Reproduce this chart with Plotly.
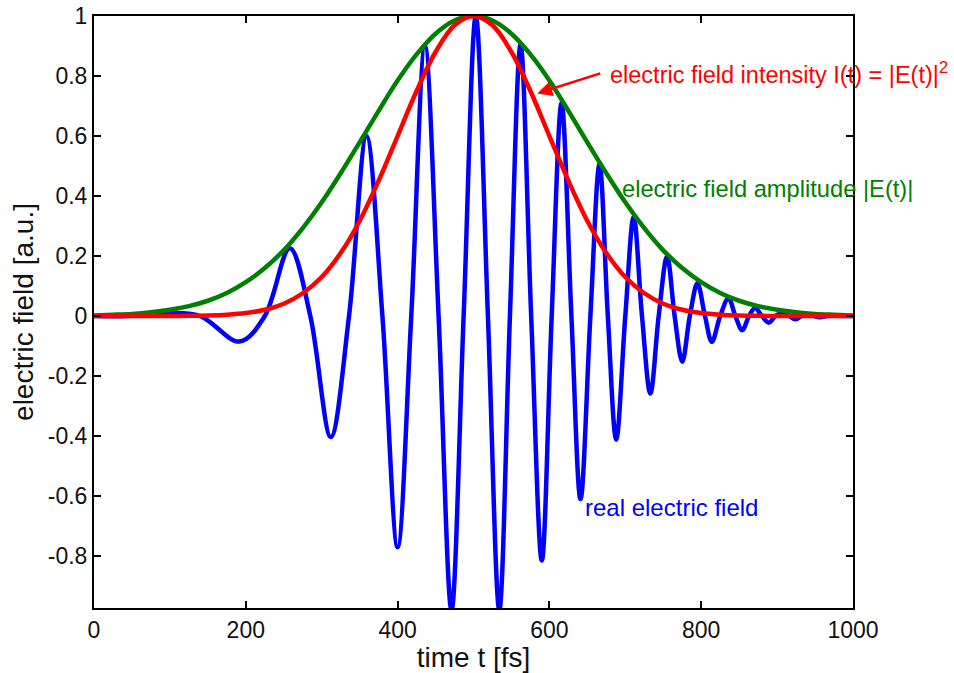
import plotly.graph_objects as go

# ---- data ----
# real electric field: extrema and zero crossings (t in fs)
blue_t = [0, 45, 95, 140, 192, 225, 258, 285, 312, 336, 359, 380, 400, 418,
          436, 454, 471, 487, 503, 519, 534, 548, 562, 576, 590, 603, 616,
          629, 641, 654, 666, 677, 688, 700, 711, 722, 733, 744, 755, 765,
          775, 785, 795, 805, 814, 825, 836, 845, 854, 863, 871, 880, 889,
          898, 907, 916, 924, 932, 940, 949, 957, 966, 975, 988, 1000]
blue_e = [0.0, 0.0, 0.01, 0.0, -0.085, 0.0, 0.226, 0.0, -0.403, 0.0, 0.60,
          0.0, -0.77, 0.0, 0.90, 0.0, -0.98, 0.0, 1.0, 0.0, -0.98, 0.0,
          0.905, 0.0, -0.815, 0.0, 0.71, 0.0, -0.61, 0.0, 0.505, 0.0, -0.412,
          0.0, 0.33, 0.0, -0.258, 0.0, 0.198, 0.0, -0.152, 0.0, 0.109, 0.0,
          -0.086, 0.0, 0.059, 0.0, -0.047, 0.0, 0.027, 0.0, -0.022, 0.0,
          0.012, 0.0, -0.011, 0.0, 0.006, 0.0, -0.004, 0.0, 0.002, 0.0, 0.0]

env_t = [0, 25, 50, 75, 100, 125, 150, 175, 200, 225, 250, 275, 300, 325,
         350, 375, 400, 425, 450, 475, 500, 525, 550, 575, 600, 625, 650,
         675, 700, 725, 750, 775, 800, 825, 850, 875, 900, 925, 950, 975, 1000]
# electric field amplitude |E(t)|
amp = [0.002, 0.0042, 0.007, 0.0125, 0.021, 0.033, 0.051, 0.077, 0.113,
       0.160, 0.219, 0.293, 0.379, 0.476, 0.579, 0.684, 0.785, 0.872, 0.941,
       0.985, 1.0, 0.985, 0.941, 0.872, 0.785, 0.684, 0.579, 0.476, 0.379,
       0.293, 0.219, 0.160, 0.113, 0.077, 0.051, 0.033, 0.021, 0.0125, 0.007,
       0.0042, 0.002]
# electric field intensity I(t)
inten = [0.0, 0.0, 0.0, 0.0001, 0.0003, 0.0008, 0.002, 0.0046, 0.010, 0.021,
         0.041, 0.076, 0.130, 0.210, 0.317, 0.451, 0.600, 0.750, 0.880, 0.969,
         1.0, 0.969, 0.880, 0.750, 0.600, 0.451, 0.317, 0.210, 0.130, 0.076,
         0.041, 0.021, 0.010, 0.0046, 0.002, 0.0008, 0.0003, 0.0001, 0.0, 0.0,
         0.0]

x_ticks = [0, 200, 400, 600, 800, 1000]
x_tick_labels = ["0", "200", "400", "600", "800", "1000"]
y_ticks = [-0.8, -0.6, -0.4, -0.2, 0, 0.2, 0.4, 0.6, 0.8, 1]
y_tick_labels = ["-0.8", "-0.6", "-0.4", "-0.2", "0", "0.2", "0.4", "0.6", "0.8", "1"]

BLUE = "#0000FF"
GREEN = "#008000"
RED = "#FF0000"
FONT = "Liberation Sans, Arial, sans-serif"

fig = go.Figure()
fig.add_trace(go.Scatter(x=blue_t, y=blue_e, mode="lines",
                         line=dict(color=BLUE, width=4.5, shape="spline", smoothing=1.0),
                         showlegend=False, hoverinfo="skip"))
fig.add_trace(go.Scatter(x=env_t, y=amp, mode="lines",
                         line=dict(color=GREEN, width=4.5, shape="spline"),
                         showlegend=False, hoverinfo="skip"))
fig.add_trace(go.Scatter(x=env_t, y=inten, mode="lines",
                         line=dict(color=RED, width=4.5, shape="spline"),
                         showlegend=False, hoverinfo="skip"))

# arrow pointing at intensity curve
fig.add_annotation(x=584, y=0.742, ax=671, ay=0.812, axref="x", ayref="y",
                   xref="x", yref="y", text=" ", showarrow=True,
                   arrowhead=2, arrowsize=1.2, arrowwidth=2.5, arrowcolor=RED)
fig.add_annotation(x=677, y=0.81, xref="x", yref="y",
                   text="electric field intensity I(t) = |E(t)|<sup>2</sup>",
                   showarrow=False, xanchor="left", yanchor="middle",
                   font=dict(family=FONT, size=23.5, color=RED))
fig.add_annotation(x=693, y=0.423, xref="x", yref="y",
                   text="electric field amplitude |E(t)|",
                   showarrow=False, xanchor="left", yanchor="middle",
                   font=dict(family=FONT, size=23.7, color=GREEN))
fig.add_annotation(x=644, y=-0.637, xref="x", yref="y",
                   text="real electric field",
                   showarrow=False, xanchor="left", yanchor="middle",
                   font=dict(family=FONT, size=24, color=BLUE))

axis_common = dict(showline=True, linecolor="black", linewidth=2,
                   mirror="ticks", ticks="inside", ticklen=7, tickwidth=2,
                   tickcolor="black", showgrid=False, zeroline=False,
                   automargin=False,
                   tickfont=dict(family=FONT, size=23, color="#111111"))

fig.update_xaxes(range=[0, 1000], tickvals=x_ticks, ticktext=x_tick_labels,
                 title=dict(text="time t [fs]", font=dict(family=FONT, size=28, color="#111111"),
                            standoff=2),
                 **axis_common)
fig.update_yaxes(range=[-0.973, 1], tickvals=y_ticks, ticktext=y_tick_labels,
                 title=dict(text="electric field [a.u.]", font=dict(family=FONT, size=28, color="#111111"),
                            standoff=6),
                 **axis_common)

fig.update_layout(width=954, height=673,
                  margin=dict(l=94, r=101, t=16, b=65, pad=0),
                  plot_bgcolor="white", paper_bgcolor="white")

fig.write_html("out.html")
